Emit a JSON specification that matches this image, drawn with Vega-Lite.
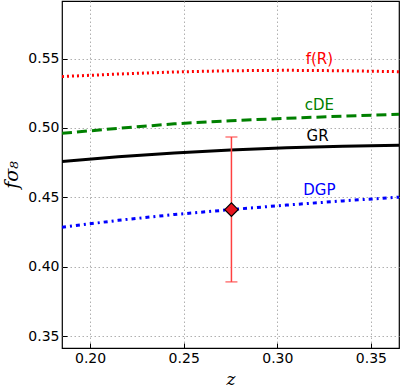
{
  "$schema": "https://vega.github.io/schema/vega-lite/v6.json",
  "width": 337,
  "height": 347,
  "autosize": {"type": "none"},
  "padding": {"left": 62, "top": 1, "right": 1, "bottom": 39},
  "background": "white",
  "config": {
    "font": "DejaVu Sans",
    "view": {"stroke": "black", "strokeWidth": 1.2},
    "axis": {
      "labelFont": "DejaVu Sans",
      "labelFontSize": 14,
      "labelColor": "black",
      "domain": false,
      "grid": true,
      "gridColor": "#b0b0b0",
      "gridDash": [1.5, 2.5],
      "gridWidth": 1,
      "tickColor": "black",
      "tickSize": -5,
      "tickWidth": 1
    }
  },
  "datasets": {
    "curves": [
      {"series": "f(R)", "z": 0.185, "v": 0.537},
      {"series": "f(R)", "z": 0.215, "v": 0.5388},
      {"series": "f(R)", "z": 0.245, "v": 0.5403},
      {"series": "f(R)", "z": 0.275, "v": 0.5412},
      {"series": "f(R)", "z": 0.305, "v": 0.5415},
      {"series": "f(R)", "z": 0.335, "v": 0.5412},
      {"series": "f(R)", "z": 0.365, "v": 0.5405},
      {"series": "cDE", "z": 0.185, "v": 0.4962},
      {"series": "cDE", "z": 0.215, "v": 0.4997},
      {"series": "cDE", "z": 0.245, "v": 0.503},
      {"series": "cDE", "z": 0.275, "v": 0.5052},
      {"series": "cDE", "z": 0.305, "v": 0.507},
      {"series": "cDE", "z": 0.335, "v": 0.5085},
      {"series": "cDE", "z": 0.365, "v": 0.5098},
      {"series": "GR", "z": 0.185, "v": 0.4759},
      {"series": "GR", "z": 0.215, "v": 0.4793},
      {"series": "GR", "z": 0.245, "v": 0.482},
      {"series": "GR", "z": 0.275, "v": 0.4842},
      {"series": "GR", "z": 0.305, "v": 0.4858},
      {"series": "GR", "z": 0.335, "v": 0.4868},
      {"series": "GR", "z": 0.365, "v": 0.4875},
      {"series": "DGP", "z": 0.185, "v": 0.4285},
      {"series": "DGP", "z": 0.215, "v": 0.4335},
      {"series": "DGP", "z": 0.245, "v": 0.4377},
      {"series": "DGP", "z": 0.275, "v": 0.4412},
      {"series": "DGP", "z": 0.305, "v": 0.4445},
      {"series": "DGP", "z": 0.335, "v": 0.4475},
      {"series": "DGP", "z": 0.365, "v": 0.4502}
    ],
    "labels": [
      {"series": "f(R)", "z": 0.3225, "v": 0.5495},
      {"series": "cDE", "z": 0.3225, "v": 0.5163},
      {"series": "GR", "z": 0.3215, "v": 0.4945},
      {"series": "DGP", "z": 0.3225, "v": 0.4553}
    ],
    "obs": [
      {"z": 0.2755, "v": 0.4412, "lo": 0.3892, "hi": 0.4935}
    ]
  },
  "layer": [
    {
      "data": {"name": "curves"},
      "transform": [{"filter": "datum.series === 'f(R)'"}],
      "mark": {"type": "line", "clip": true, "strokeWidth": 3, "strokeDash": [2, 3], "color": "#ff0000"},
      "encoding": {
        "x": {"field": "z", "type": "quantitative", "scale": {"domain": [0.185, 0.365], "nice": false, "zero": false},
              "axis": {"values": [0.2, 0.25, 0.3, 0.35], "format": ".2f", "title": "z", "titleFont": "DejaVu Serif", "titleFontStyle": "italic", "titleFontWeight": "normal", "titleFontSize": 17, "titlePadding": 6, "labelPadding": 8}},
        "y": {"field": "v", "type": "quantitative", "scale": {"domain": [0.3416, 0.5914], "nice": false, "zero": false},
              "axis": {"values": [0.35, 0.4, 0.45, 0.5, 0.55], "format": ".2f", "title": "fσ₈", "titleFont": "DejaVu Serif", "titleFontStyle": "italic", "titleFontWeight": "normal", "titleFontSize": 19, "titlePadding": 6, "labelPadding": 8}}
      }
    },
    {
      "data": {"name": "curves"},
      "transform": [{"filter": "datum.series === 'cDE'"}],
      "mark": {"type": "line", "clip": true, "strokeWidth": 3, "strokeDash": [10, 5], "color": "#008000"},
      "encoding": {"x": {"field": "z", "type": "quantitative"}, "y": {"field": "v", "type": "quantitative"}}
    },
    {
      "data": {"name": "curves"},
      "transform": [{"filter": "datum.series === 'GR'"}],
      "mark": {"type": "line", "clip": true, "strokeWidth": 3, "color": "black"},
      "encoding": {"x": {"field": "z", "type": "quantitative"}, "y": {"field": "v", "type": "quantitative"}}
    },
    {
      "data": {"name": "curves"},
      "transform": [{"filter": "datum.series === 'DGP'"}],
      "mark": {"type": "line", "clip": true, "strokeWidth": 3, "strokeDash": [4, 4, 2, 4], "color": "#0000ff"},
      "encoding": {"x": {"field": "z", "type": "quantitative"}, "y": {"field": "v", "type": "quantitative"}}
    },
    {
      "data": {"name": "labels"},
      "mark": {"type": "text", "fontSize": 15, "font": "DejaVu Sans", "align": "center", "baseline": "middle"},
      "encoding": {
        "x": {"field": "z", "type": "quantitative"},
        "y": {"field": "v", "type": "quantitative"},
        "text": {"field": "series"},
        "color": {"field": "series", "type": "nominal", "legend": null,
                  "scale": {"domain": ["f(R)", "cDE", "GR", "DGP"], "range": ["#ff0000", "#008000", "#000000", "#0000ff"]}}
      }
    },
    {
      "data": {"name": "obs"},
      "mark": {"type": "rule", "color": "#ff4040", "strokeWidth": 1.5},
      "encoding": {"x": {"field": "z", "type": "quantitative"}, "y": {"field": "lo", "type": "quantitative"}, "y2": {"field": "hi"}}
    },
    {
      "data": {"name": "obs"},
      "mark": {"type": "tick", "orient": "horizontal", "color": "#ff4040", "thickness": 1.5, "size": 12},
      "encoding": {"x": {"field": "z", "type": "quantitative"}, "y": {"field": "lo", "type": "quantitative"}}
    },
    {
      "data": {"name": "obs"},
      "mark": {"type": "tick", "orient": "horizontal", "color": "#ff4040", "thickness": 1.5, "size": 12},
      "encoding": {"x": {"field": "z", "type": "quantitative"}, "y": {"field": "hi", "type": "quantitative"}}
    },
    {
      "data": {"name": "obs"},
      "mark": {"type": "point", "shape": "diamond", "filled": true, "fill": "#e8141e", "stroke": "black", "strokeWidth": 1.2, "size": 180, "opacity": 1},
      "encoding": {"x": {"field": "z", "type": "quantitative"}, "y": {"field": "v", "type": "quantitative"}}
    }
  ]
}
